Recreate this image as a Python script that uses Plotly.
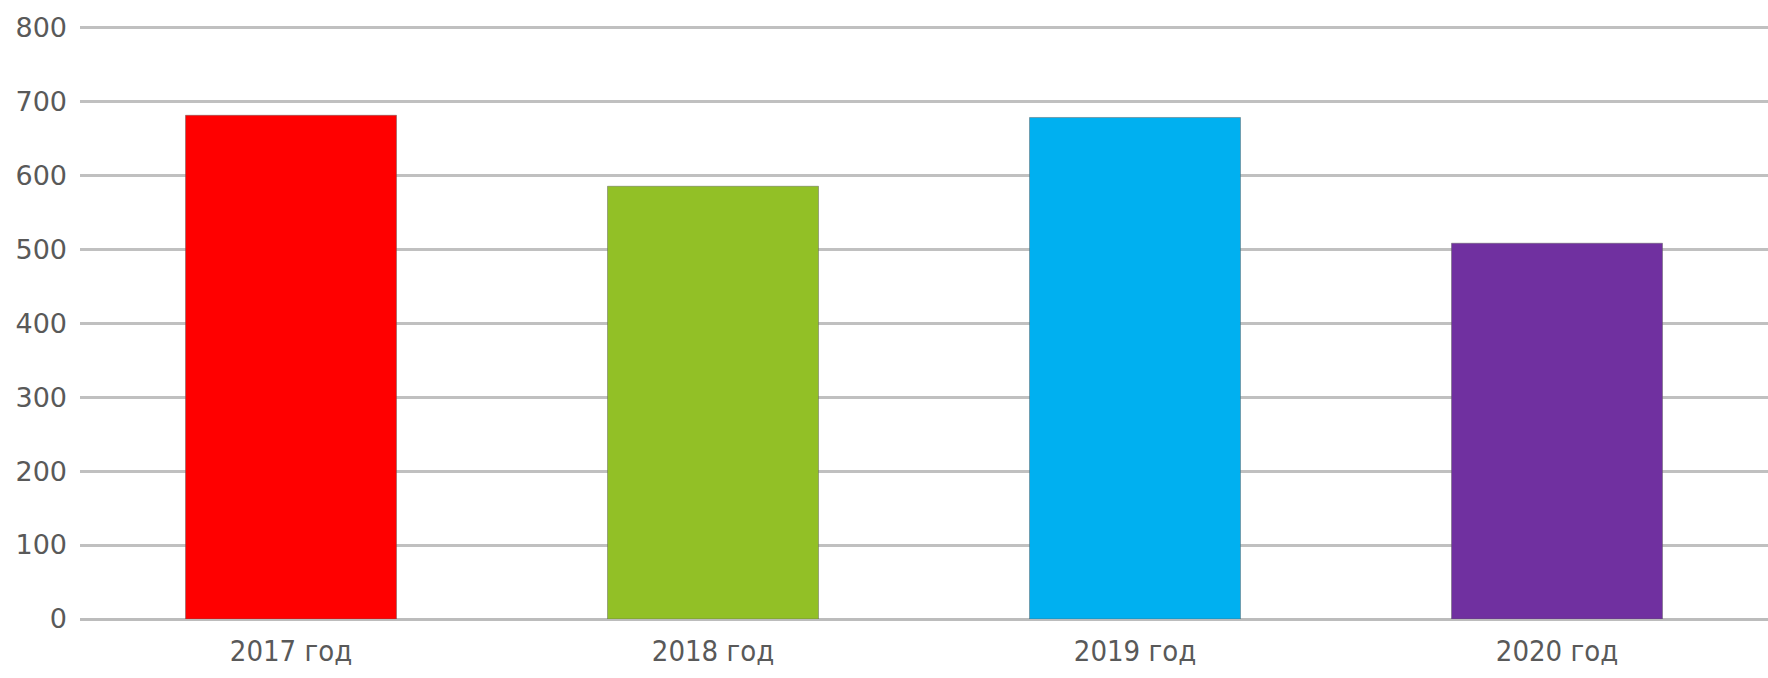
import plotly.graph_objects as go

# Data
years = ["2017 год", "2018 год", "2019 год", "2020 год"]
values = [681, 585, 678, 508]
bar_colors = ["#ff0000", "#92c026", "#00b0f0", "#7030a0"]
y_ticks = [0, 100, 200, 300, 400, 500, 600, 700, 800]

fig = go.Figure(
    go.Bar(
        x=years,
        y=values,
        marker=dict(
            color=bar_colors,
            line=dict(color="rgba(90,90,90,0.45)", width=1),
        ),
        width=0.5,
        hoverinfo="x+y",
    )
)

fig.update_layout(
    width=1768,
    height=678,
    margin=dict(l=80, r=0, t=25, b=59),
    paper_bgcolor="white",
    plot_bgcolor="white",
    showlegend=False,
    bargap=0.5,
)

fig.update_xaxes(
    range=[-0.5, 3.5],
    showgrid=False,
    showline=False,
    ticks="",
    tickfont=dict(family="DejaVu Sans Condensed, Roboto, sans-serif", size=29, color="#595959"),
    ticklabelstandoff=12,
)

fig.update_yaxes(
    range=[0, 803],
    tickvals=y_ticks,
    ticktext=[str(v) for v in y_ticks],
    showgrid=True,
    gridcolor="#c0c0c0",
    gridwidth=3,
    zeroline=True,
    zerolinecolor="#bcbcbc",
    zerolinewidth=3,
    showline=False,
    ticks="",
    tickfont=dict(family="DejaVu Sans, Verdana, sans-serif", size=27, color="#595959"),
    ticklabelstandoff=12,
)

fig.write_html("out.html")
